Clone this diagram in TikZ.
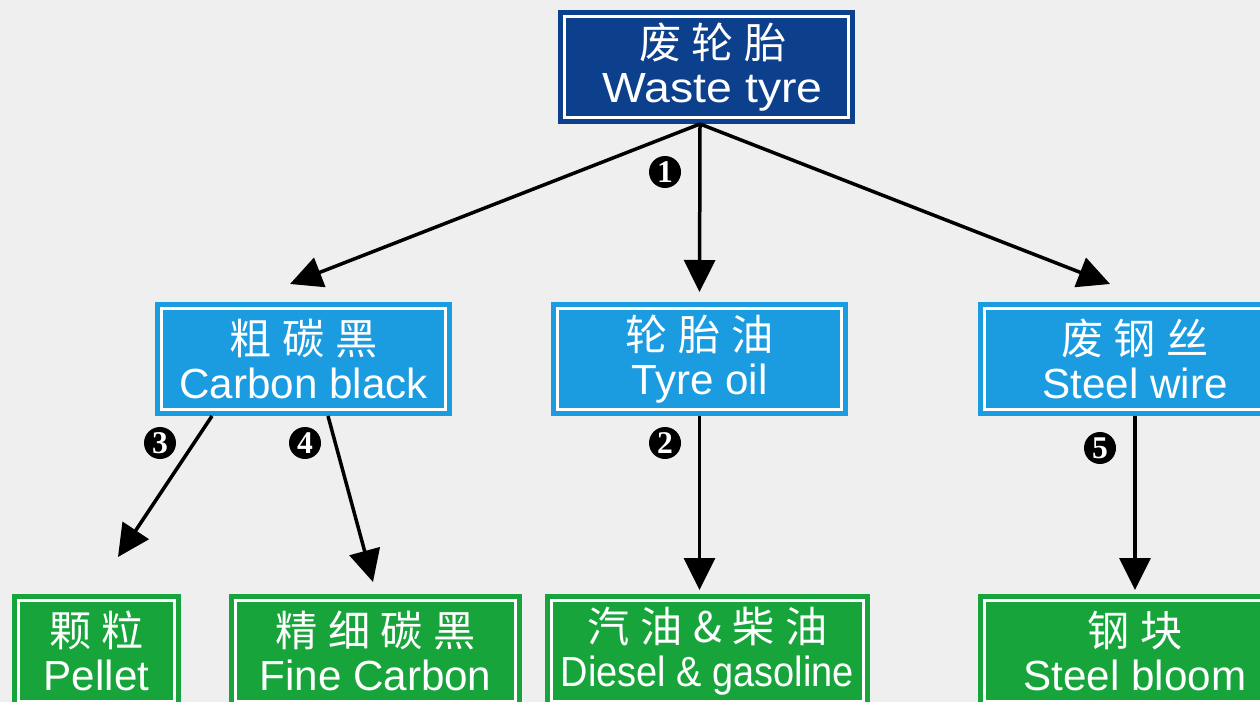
\documentclass[tikz,border=0pt]{standalone}
\usepackage{fontspec}
\setmainfont{Liberation Sans}
\newfontfamily\cjk[LetterSpace=25]{Noto Sans CJK SC}
\newfontfamily\numfont{Liberation Serif}
\usepackage{tikz}
\usetikzlibrary{positioning,arrows.meta}

\definecolor{darkblue}{HTML}{0C3F8C}
\definecolor{lightblue}{HTML}{1B9BE0}
\definecolor{boxgreen}{HTML}{17A53B}
\definecolor{bggray}{HTML}{EFEFEF}

\tikzset{
  box/.style={rectangle, draw=#1, fill=#1, double=white, double distance=0.06cm,
    line width=0.1cm, outer sep=0.13cm, text=white, align=center, inner sep=0pt,
    minimum height=2.02cm, font=\fontsize{24}{25}\selectfont},
  num/.style={circle, fill=black, text=white, inner sep=0pt, minimum size=0.64cm,
    font=\numfont\bfseries\fontsize{18}{18}\selectfont},
  arr/.style={line width=0.07cm, -{Triangle[length=0.64cm,width=0.62cm]}}
}

\begin{document}
\begin{tikzpicture}[x=0.02cm,y=-0.02cm]
  \useasboundingbox (0,0) rectangle (1260,702);
  \clip (0,0) rectangle (1260,702);
  \fill[bggray] (0,0) rectangle (1260,702);

  % boxes
  \node[box=darkblue, minimum width=5.68cm] (tyre) at (706.5,67) {{\cjk\kern0.3em 废轮胎}\\\kern0.3em\scalebox{1.1}[1]{Waste tyre}};

  \node[box=lightblue, minimum width=5.68cm] (cb) at (303.5,359) {{\cjk 粗碳黑}\\Carbon black};
  \node[box=lightblue, minimum width=5.68cm] (oil) at (699.5,359) {{\cjk 轮胎油}\\Tyre oil};
  \node[box=lightblue, minimum width=6.02cm] (wire) at (1135,359) {{\cjk 废钢丝}\\Steel wire};

  \node[box=boxgreen, minimum width=3.12cm] (pellet) at (96.5,651) {{\cjk 颗粒}\\Pellet};
  \node[box=boxgreen, minimum width=5.6cm] (fine) at (375.5,651) {{\cjk 精细碳黑}\\Fine Carbon};
  \node[box=boxgreen, minimum width=6.24cm] (diesel) at (707.5,651) {{\cjk 汽油\&柴油}\\\scalebox{0.9}[1]{Diesel \& gasoline}};
  \node[box=boxgreen, minimum width=6.02cm] (bloom) at (1135,651) {{\cjk 钢块}\\Steel bloom};

  % step numbers
  \node[num] (n1) at (665,172) {1};
  \node[num] (n2) at (665,443) {2};
  \node[num] (n3) at (160,443) {3};
  \node[num] (n4) at (305,443) {4};
  \node[num] (n5) at (1100,448) {5};

  % start and end points of the arrows
  \coordinate (s0) at ([xshift=-0.13cm]tyre.south);
  \coordinate (s3) at ([xshift=-1.83cm]cb.south);
  \coordinate (s4) at ([xshift=0.49cm]cb.south);
  \coordinate (tcb) at (290,284);
  \coordinate (toil) at (699.5,292);
  \coordinate (twire) at (1110,284);
  \coordinate (tpel) at (118,557);
  \coordinate (tfine) at (373,582);
  \coordinate (tdie) at (699.5,590);
  \coordinate (tbloom) at (1135,590);

  \foreach \from/\to in {s0/tcb, s0/toil, s0/twire, s3/tpel, s4/tfine, oil.south/tdie, wire.south/tbloom}
    \draw[arr] (\from) -- (\to);
\end{tikzpicture}
\end{document}
